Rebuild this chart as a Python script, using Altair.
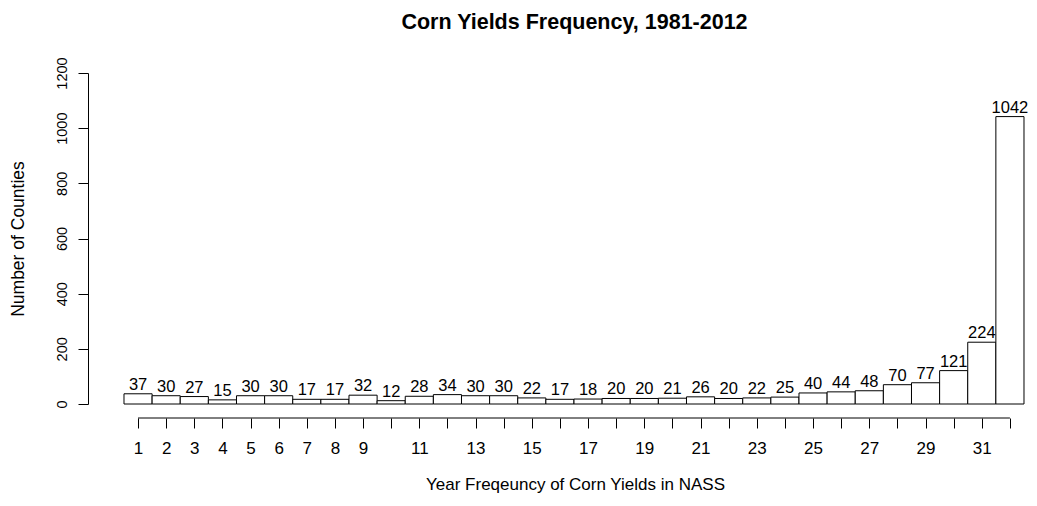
import altair as alt
import pandas as pd

years = list(range(1, 33))
counts = [37, 30, 27, 15, 30, 30, 17, 17, 32, 12, 28, 34, 30, 30, 22, 17,
          18, 20, 20, 21, 26, 20, 22, 25, 40, 44, 48, 70, 77, 121, 224, 1042]
shown_labels = [1, 2, 3, 4, 5, 6, 7, 8, 9, 11, 13, 15, 17, 19, 21, 23, 25, 27, 29, 31]
y_ticks = [0, 200, 400, 600, 800, 1000, 1200]

df = pd.DataFrame({"year": years, "count": counts})
df["x0"] = df["year"] - 0.5
df["x1"] = df["year"] + 0.5

W, H = 939, 331
FONT = "Liberation Sans"
AX_OFF = 14

xscale = alt.Scale(domain=[-0.78, 32.607], nice=False, zero=False)
yscale = alt.Scale(domain=[0, 1200], nice=False)

label_expr = "indexof([" + ",".join(str(v) for v in shown_labels) + "], datum.value) >= 0 ? datum.label : ''"

xaxis = alt.Axis(values=years, labelExpr=label_expr, domain=False, grid=False,
                 offset=AX_OFF, tickSize=10, tickColor="black", tickWidth=1,
                 labelFontSize=17, labelFont=FONT, labelColor="black",
                 labelPadding=12, labelFlush=False, labelOverlap=False,
                 labelBound=False, labelSeparation=0,
                 title="Year Freqeuncy of Corn Yields in NASS",
                 titleFont=FONT, titleFontSize=17, titleFontWeight="normal",
                 titleColor="black", titlePadding=20, titleX=487)
yaxis = alt.Axis(values=y_ticks, format="d", grid=False, domainColor="black",
                 tickColor="black", tickSize=10, labelAngle=270, labelAlign="center",
                 labelBaseline="bottom", labelFontSize=14.5, labelFont=FONT,
                 labelColor="black", labelPadding=9, labelFlush=False,
                 labelOverlap=False,
                 title="Number of Counties", titleFont=FONT, titleFontSize=17.5,
                 titleFontWeight="normal", titleColor="black", titlePadding=27)

bars = alt.Chart(df).mark_rect(fill="white", stroke="black", strokeWidth=1).encode(
    x=alt.X("x0:Q", scale=xscale, axis=xaxis),
    x2="x1:Q",
    y=alt.Y("count:Q", scale=yscale, axis=yaxis),
    y2=alt.datum(0),
)

labels = alt.Chart(df).mark_text(baseline="alphabetic", dy=-4, fontSize=16.5, font=FONT,
                                 color="black").encode(
    x=alt.X("year:Q", scale=xscale, axis=xaxis),
    y=alt.Y("count:Q", scale=yscale, axis=yaxis),
    text="count:Q",
)

axis_line_df = pd.DataFrame({"start": [years[0]], "end": [years[-1]]})
axis_line = alt.Chart(axis_line_df).mark_rule(color="black", strokeWidth=1).encode(
    x=alt.X("start:Q", scale=xscale, axis=xaxis),
    x2="end:Q",
    y=alt.value(H + AX_OFF),
)

chart = alt.layer(bars, labels, axis_line).properties(
    width=W, height=H,
    background="white",
    title=alt.TitleParams("Corn Yields Frequency, 1981-2012", font=FONT, fontSize=21.5,
                          fontWeight="bold", color="black", anchor="middle", dx=17, offset=23),
    autosize=alt.AutoSizeParams(type="none"),
    padding={"left": 80, "top": 65, "right": 2, "bottom": 94},
).configure_view(stroke=None)

chart.save("out.html", embed_options={"renderer": "svg", "actions": False})
